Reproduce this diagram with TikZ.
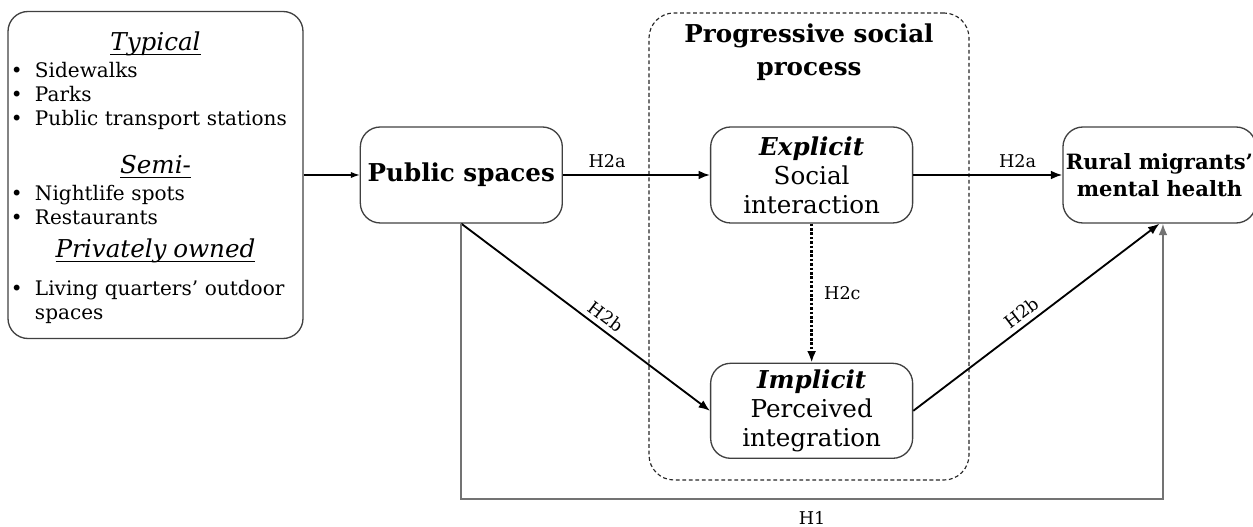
\documentclass[tikz,border=0pt]{standalone}
\usepackage{fontspec}
\setmainfont{DejaVu Serif}
\usetikzlibrary{arrows.meta, positioning}

\newcommand{\ulhead}[1]{\par\centerline{\fontsize{14}{16}\selectfont\setbox0\hbox{\itshape #1}\rlap{\rule[-2.6pt]{\wd0}{0.5pt}}\box0}}
\newcommand{\bitem}[1]{\par\hangindent=0.48cm\hangafter=1\noindent\makebox[0.48cm][l]{\textbullet}#1}

\begin{document}
\begin{tikzpicture}[node distance=2cm,
    box/.style={rectangle, rounded corners=0.4cm, draw=black!75, line width=0.75pt, minimum width=4.04cm, minimum height=1.92cm, align=center, inner sep=0pt},
    link/.style={-{Latex[length=6.5pt,width=5pt]}, line width=1.05pt},
    hlabel/.style={font=\fontsize{10}{12}\selectfont}]
    \useasboundingbox (0,0) rectangle (25.06,10.54);

    \node (T1) [box, minimum width=5.9cm, minimum height=6.54cm, text width=5.78cm, align=left, font=\fontsize{11.4}{13.7}\selectfont] at (3.11,7.04) {%
        \lineskiplimit=-20pt
        \ulhead{Typical}\vspace{1.7pt}
        \bitem{Sidewalks}
        \bitem{Parks}
        \bitem{Public transport stations}\par\vspace{13.6pt}
        \ulhead{Semi-}\vspace{1.7pt}
        \bitem{Nightlife spots}
        \bitem{Restaurants}\par\vspace{5.1pt}
        \ulhead{Privately owned}\vspace{7.9pt}
        \bitem{Living quarters' outdoor\newline spaces}\par};
    \node (P1) [box, right=1.12cm of T1, font=\bfseries\fontsize{14}{16}\selectfont] {Public spaces};
    \node (E1) [box, right=2.94cm of P1, font=\fontsize{14}{16.5}\selectfont] {\textbf{\textit{Explicit}}\\Social\\interaction};
    \node (I1) [box, below=2.78cm of E1, minimum height=1.9cm, font=\fontsize{14}{16.5}\selectfont] {\textbf{\textit{Implicit}}\\Perceived\\integration};
    \node (R1) [box, right=2.98cm of E1, minimum width=3.86cm, font=\bfseries\fontsize{12}{15.5}\selectfont] {Rural migrants'\\mental health};

    \node (G1) [draw=black!85, line width=0.65pt, dash pattern=on 2.2pt off 1.5pt, rounded corners=0.5cm, minimum width=6.4cm, minimum height=9.34cm] at (16.18,5.61) {};
    \node (G2) [below=0.22cm of G1.north, align=center, inner sep=0pt, font=\bfseries\fontsize{14}{18.8}\selectfont] {Progressive social\\process};

    \draw[-{Latex[length=5pt,width=3.5pt]}, line width=0.6pt] (T1) -- (P1);
    \draw[link] (P1) -- node[pos=0.3, above, hlabel] {H2a} (E1);
    \draw[link] (E1) -- node[pos=0.7, above, hlabel] {H2a} (R1);
    \draw[link] (P1.south) -- node[pos=0.55, above=2pt, sloped, inner sep=1pt, hlabel] {H2b} (I1.west);
    \draw[link] (I1.east) -- node[pos=0.47, above=2pt, sloped, inner sep=1pt, hlabel] {H2b} (R1.south);
    \draw[link, line width=1.6pt, dash pattern=on 1.5pt off 1pt] (E1) -- node[right=3pt, hlabel] {H2c} (I1);
    \draw[link, draw=black!55] (P1.south) -- ++(0,-5.5) -| node[pos=0.25, below=3.5pt, hlabel] {H1} ([xshift=0.07cm]R1.south);

\end{tikzpicture}
\end{document}
